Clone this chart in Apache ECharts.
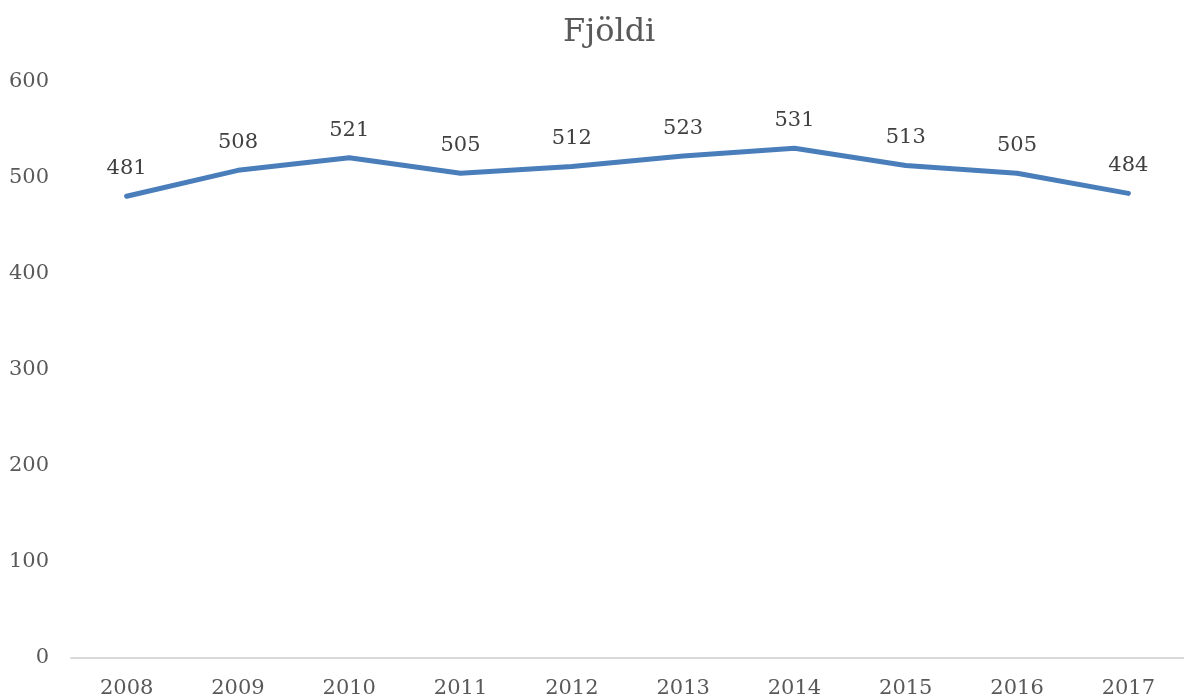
<!DOCTYPE html>
<html>
<head>
<meta charset="utf-8">
<script src="https://cdn.jsdelivr.net/npm/echarts@6/dist/echarts.min.js"></script>
<style>
html, body { margin: 0; padding: 0; background: #fff; }
#chart { width: 1184px; height: 700px; }
</style>
</head>
<body>
<div id="chart"></div>
<script>
var years = ['2008', '2009', '2010', '2011', '2012', '2013', '2014', '2015', '2016', '2017'];
var counts = [481, 508, 521, 505, 512, 523, 531, 513, 505, 484];
var chartTitle = 'Fjöldi';

var font = 'DejaVu Serif';
var myChart = echarts.init(document.getElementById('chart'));
var option = {
    title: {
        text: chartTitle,
        left: 558,
        top: 12,
        textStyle: { fontFamily: font, fontSize: 32, fontWeight: 'normal', color: '#595959' }
    },
    grid: { left: 71, right: -5, top: 82, bottom: 42, containLabel: false },
    xAxis: {
        type: 'category',
        data: years,
        boundaryGap: true,
        axisLine: { lineStyle: { color: '#d9d9d9', width: 2 } },
        axisTick: { show: false },
        axisLabel: { fontFamily: font, fontSize: 21, color: '#595959', margin: 20 }
    },
    yAxis: {
        type: 'value',
        min: 0,
        max: 600,
        interval: 100,
        axisLine: { show: false },
        axisTick: { show: false },
        splitLine: { show: false },
        axisLabel: { fontFamily: font, fontSize: 21, color: '#595959', margin: 22, verticalAlign: 'middle', padding: [3, 0, 0, 0] }
    },
    series: [{
        type: 'line',
        data: counts,
        symbol: 'circle',
        symbolSize: 4,
        showSymbol: true,
        itemStyle: { color: '#4a7ebb' },
        lineStyle: { color: '#4a7ebb', width: 5, cap: 'round', join: 'round' },
        label: {
            show: true,
            position: 'top',
            distance: 15,
            fontFamily: font,
            fontSize: 21,
            color: '#404040'
        },
        silent: true
    }]
};
myChart.setOption(option);
</script>
</body>
</html>
